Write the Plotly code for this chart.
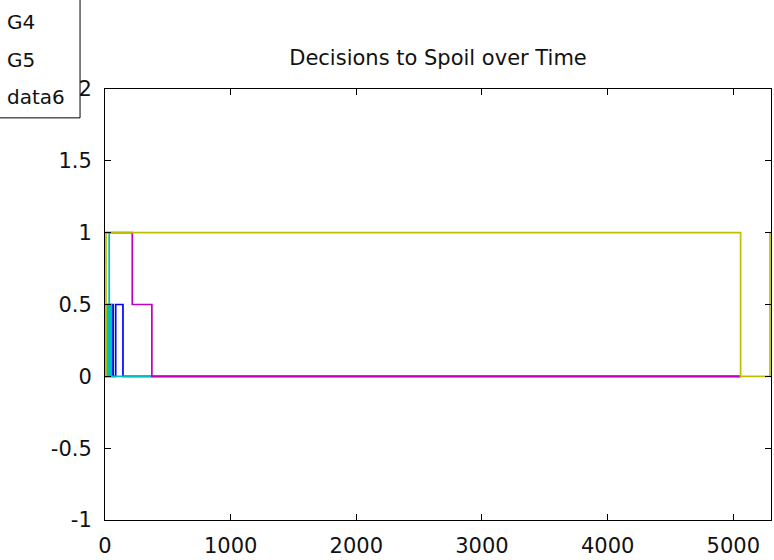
import plotly.graph_objects as go

# ---- data ----
g1_x = [0, 13, 13, 17, 17, 21, 21, 25, 25, 29, 29, 41, 41, 45, 45, 49, 49, 53, 53, 57, 57, 61, 61, 65, 65, 69, 69, 85, 85, 143, 143, 5058]
g1_y = [0, 0, 0.5, 0.5, 0, 0, 0.5, 0.5, 0, 0, 0.5, 0.5, 0, 0, 0.5, 0.5, 0, 0, 0.5, 0.5, 0, 0, 0.5, 0.5, 0, 0, 0, 0, 0.5, 0.5, 0, 0]

g4_x = [0, 13, 13, 16, 16, 19, 19, 23, 23, 27, 27, 31, 31, 33, 33, 33, 35, 35, 39, 39, 43, 43, 47, 47, 51, 51, 5058]
g4_y = [0, 0, 0.5, 0.5, 0, 0, 0.5, 0.5, 0, 0, 0.5, 0.5, 0, 0, 1, 0.5, 0.5, 0, 0, 0.5, 0.5, 0, 0, 0.5, 0.5, 0, 0]

g5_x = [0, 217, 217, 373, 373, 5058]
g5_y = [1, 1, 0.5, 0.5, 0, 0]

data6_x = [0, 8, 8, 5058, 5058, 5292, 5292, 5300]
data6_y = [0, 0, 1, 1, 0, 0, 1, 1]

x_ticks = [0, 1000, 2000, 3000, 4000, 5000]
y_ticks = [-1, -0.5, 0, 0.5, 1, 1.5, 2]
y_tick_labels = ["-1", "-0.5", "0", "0.5", "1", "1.5", "2"]
legend_labels = ["G4", "G5", "data6"]

title_text = "Decisions to Spoil over Time"

# ---- colours (MATLAB default order) ----
c_blue = "rgb(0,0,255)"
c_teal = "rgb(0,191,191)"
c_mag = "rgb(191,0,191)"
c_olive = "rgb(191,191,0)"

W, H = 774, 560
L, R, T, B = 105, 772, 89, 522

fig = go.Figure()
for xs, ys, col in [(g1_x, g1_y, c_blue), (g4_x, g4_y, c_teal),
                    (g5_x, g5_y, c_mag), (data6_x, data6_y, c_olive)]:
    fig.add_trace(go.Scatter(x=xs, y=ys, mode="lines",
                             line=dict(color=col, width=1.7),
                             showlegend=False, hoverinfo="skip"))

font_family = "DejaVu Sans"

axis_common = dict(
    showline=True, linecolor="black", linewidth=1, mirror="ticks",
    ticks="inside", ticklen=6, tickcolor="black", tickwidth=1,
    showgrid=False, zeroline=False,
    tickfont=dict(family=font_family, size=21, color="#111111"),
)

fig.update_xaxes(range=[0, 5300], tickvals=x_ticks,
                 ticktext=[str(v) for v in x_ticks],
                 ticklabelstandoff=7, **axis_common)
fig.update_yaxes(range=[-1, 2], tickvals=y_ticks, ticktext=y_tick_labels,
                 ticklabelstandoff=8, **axis_common)

# legend box (partly outside the picture, as in the reference)
def px_x(p):
    return (p - L) / (R - L)

def px_y(p):
    return (B - p) / (B - T)

shapes = [dict(type="rect", xref="paper", yref="paper",
               x0=px_x(-10), x1=px_x(80), y0=px_y(118), y1=px_y(-10),
               line=dict(color="black", width=1), fillcolor="white", layer="above")]
annotations = []
row_y = [22, 60, 97]
for lab, ry in zip(legend_labels, row_y):
    annotations.append(dict(text=lab, xref="paper", yref="paper",
                            x=px_x(5), y=px_y(ry), xanchor="left", yanchor="middle",
                            showarrow=False,
                            font=dict(family=font_family, size=20, color="#111111")))

fig.update_layout(
    width=W, height=H,
    margin=dict(l=L, r=W - R, t=T, b=H - B, pad=0),
    paper_bgcolor="white", plot_bgcolor="white",
    title=dict(text=title_text, x=0.5, xref="paper", xanchor="center",
               y=1 - 58 / H, yref="container", yanchor="middle",
               font=dict(family=font_family, size=21, color="#111111")),
    shapes=shapes, annotations=annotations,
)

fig.write_html("out.html", config={"displayModeBar": False},
               post_script="document.body.style.margin='0';document.body.style.padding='0';")
